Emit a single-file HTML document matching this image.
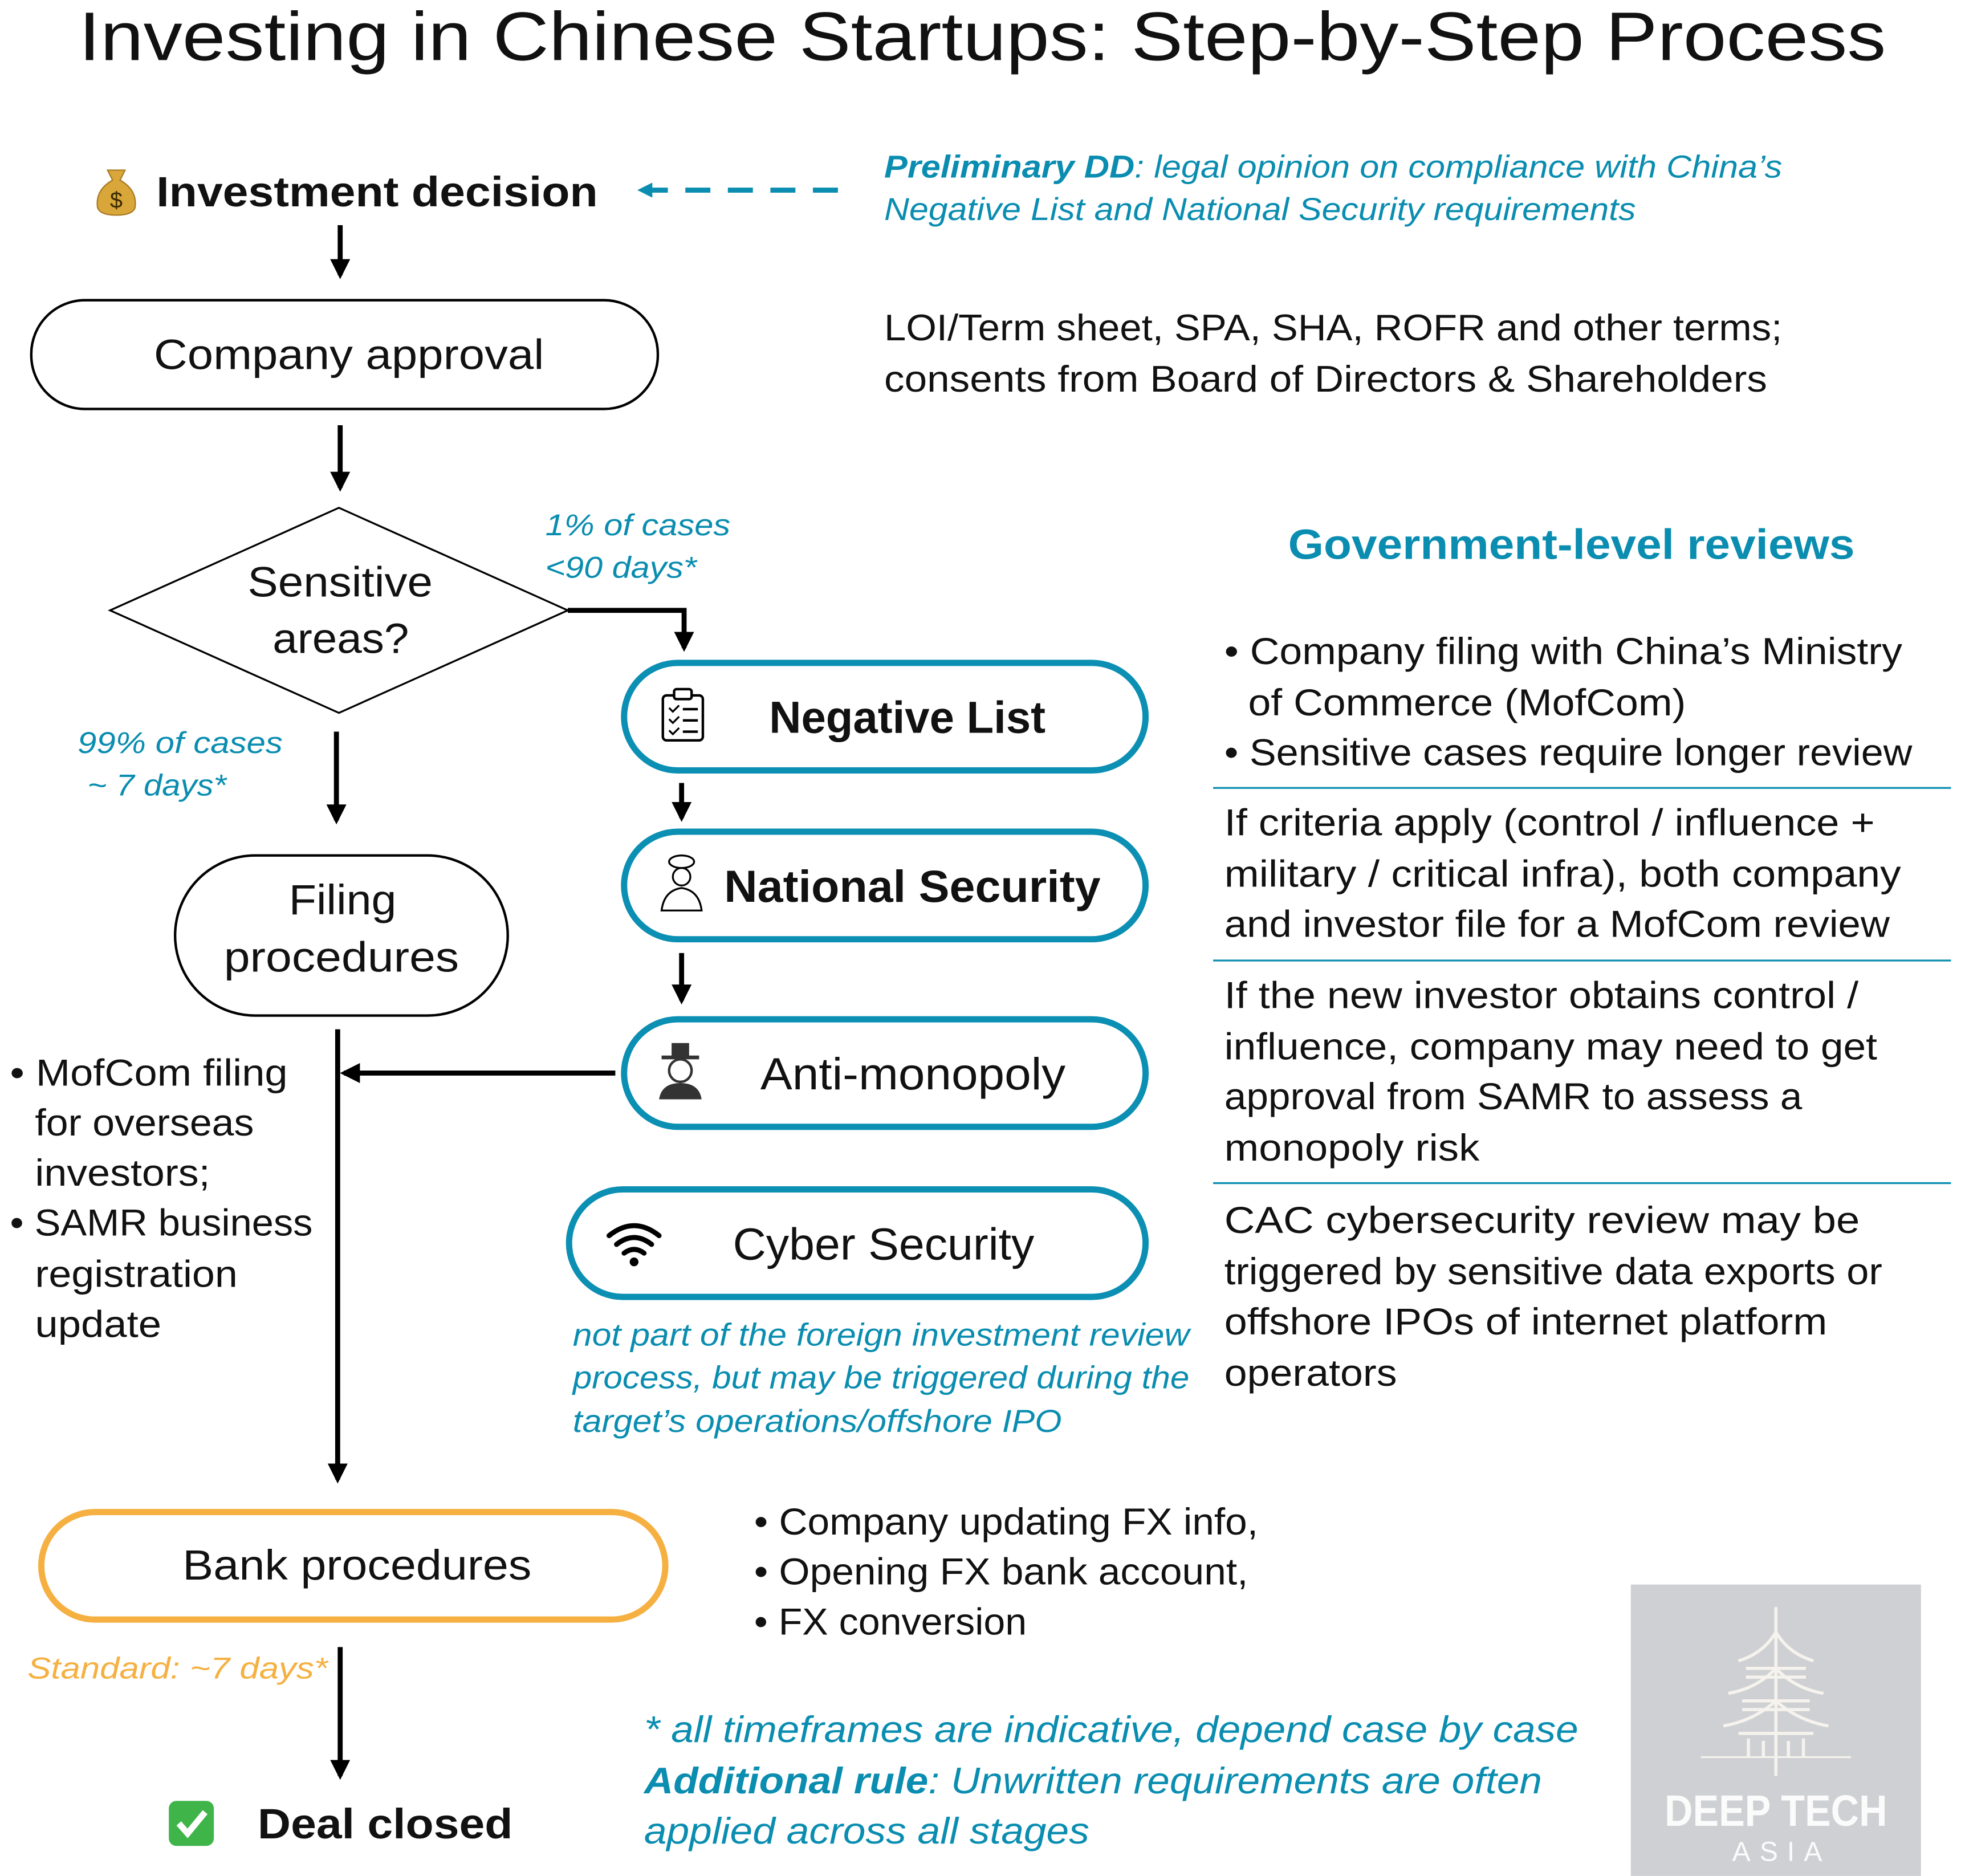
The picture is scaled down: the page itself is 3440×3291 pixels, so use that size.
<!DOCTYPE html>
<html><head><meta charset="utf-8"><style>
html,body{margin:0;padding:0;background:#fff;}
svg{display:block;}
text{font-family:"Liberation Sans","DejaVu Sans",sans-serif;fill:#111;}
.t{fill:#0a8db0;font-style:italic;}
.b{font-weight:bold;}
</style></head><body>
<svg width="3440" height="3291" viewBox="0 0 1568 1500" xmlns="http://www.w3.org/2000/svg">
<defs>
<marker id="a" viewBox="0 0 10 10" refX="8" refY="5" markerWidth="4" markerHeight="4" orient="auto"><path d="M0,0 L10,5 L0,10 z" fill="#000"/></marker>
<marker id="at" viewBox="0 0 10 10" refX="8" refY="5" markerWidth="3" markerHeight="3" orient="auto"><path d="M0,0 L10,5 L0,10 z" fill="#0a8db0"/></marker>
</defs>
<rect width="1568" height="1500" fill="#fff"/>
<text x="63" y="48" font-size="55" textLength="1445" lengthAdjust="spacingAndGlyphs">Investing in Chinese Startups: Step-by-Step Process</text>

<path d="M86,136 L100,136 L96,144 Q110,152 108,166 Q106,172 93,172 Q80,172 78,166 Q76,152 90,144 Z" fill="#d9a63a" stroke="#a77a20" stroke-width="1"/>
<text x="93" y="166" font-size="18" text-anchor="middle" style="fill:#3a2a00">$</text>
<text x="125" y="165" font-size="34" class="b" textLength="353" lengthAdjust="spacingAndGlyphs">Investment decision</text>
<line x1="670" y1="152" x2="512" y2="152" stroke="#0a8db0" stroke-width="4" stroke-dasharray="20,14" marker-end="url(#at)"/>
<text x="707" y="142" font-size="25.5" class="t" textLength="718" lengthAdjust="spacingAndGlyphs"><tspan font-weight="bold">Preliminary DD</tspan>: legal opinion on compliance with China’s</text>
<text x="707" y="176" font-size="25.5" class="t" textLength="601" lengthAdjust="spacingAndGlyphs">Negative List and National Security requirements</text>

<line x1="272" y1="180" x2="272" y2="220" stroke="#000" stroke-width="4" marker-end="url(#a)"/>
<rect x="25" y="240" width="501" height="87" rx="43" fill="#fff" stroke="#000" stroke-width="2"/>
<text x="123" y="295" font-size="34" textLength="312" lengthAdjust="spacingAndGlyphs">Company approval</text>
<text x="707" y="272" font-size="29.5" textLength="718" lengthAdjust="spacingAndGlyphs">LOI/Term sheet, SPA, SHA, ROFR and other terms;</text>
<text x="707" y="313" font-size="29.5" textLength="706" lengthAdjust="spacingAndGlyphs">consents from Board of Directors &amp; Shareholders</text>

<line x1="272" y1="340" x2="272" y2="390" stroke="#000" stroke-width="4" marker-end="url(#a)"/>
<polygon points="88,488 271,406 454,488 271,570" fill="#fff" stroke="#000" stroke-width="1.5"/>
<text x="198" y="477" font-size="34" textLength="148" lengthAdjust="spacingAndGlyphs">Sensitive</text>
<text x="218" y="522" font-size="34" textLength="109" lengthAdjust="spacingAndGlyphs">areas?</text>
<text x="436" y="428" font-size="24" class="t" textLength="148" lengthAdjust="spacingAndGlyphs">1% of cases</text>
<text x="436" y="462" font-size="24" class="t" textLength="121" lengthAdjust="spacingAndGlyphs">&lt;90 days*</text>
<polyline points="454,488 547,488 547,518" fill="none" stroke="#000" stroke-width="4" marker-end="url(#a)"/>

<text x="1030" y="447" font-size="34" class="b" style="fill:#0a8db0" textLength="453" lengthAdjust="spacingAndGlyphs">Government-level reviews</text>

<rect x="499" y="530" width="417" height="86" rx="43" fill="#fff" stroke="#0b8fb3" stroke-width="5"/>
<rect x="530" y="556" width="32" height="36" rx="3" fill="none" stroke="#000" stroke-width="2"/>
<rect x="539" y="551" width="14" height="8" rx="2" fill="#fff" stroke="#000" stroke-width="2"/>
<path d="M535,566l3,3l5,-5M535,575l3,3l5,-5M535,584l3,3l5,-5" fill="none" stroke="#000" stroke-width="1.5"/>
<path d="M546,567h12M546,576h12M546,585h12" stroke="#000" stroke-width="2"/>
<text x="615" y="586" font-size="36" class="b" textLength="221" lengthAdjust="spacingAndGlyphs">Negative List</text>
<line x1="545" y1="626" x2="545" y2="654" stroke="#000" stroke-width="4" marker-end="url(#a)"/>

<rect x="499" y="665" width="417" height="86" rx="43" fill="#fff" stroke="#0b8fb3" stroke-width="5"/>
<ellipse cx="545" cy="689" rx="10" ry="5" fill="none" stroke="#000" stroke-width="1.5"/>
<circle cx="545" cy="701" r="7" fill="none" stroke="#000" stroke-width="1.5"/>
<path d="M529,728 Q531,712 545,710 Q559,712 561,728 Z" fill="none" stroke="#000" stroke-width="1.5"/>
<text x="579" y="721" font-size="36" class="b" textLength="301" lengthAdjust="spacingAndGlyphs">National Security</text>
<line x1="545" y1="762" x2="545" y2="800" stroke="#000" stroke-width="4" marker-end="url(#a)"/>

<rect x="499" y="815" width="417" height="86" rx="43" fill="#fff" stroke="#0b8fb3" stroke-width="5"/>
<rect x="537" y="834" width="14" height="11" fill="#333"/>
<rect x="529" y="844" width="30" height="3" fill="#333"/>
<circle cx="544" cy="856" r="9" fill="none" stroke="#333" stroke-width="2"/>
<path d="M527,879 Q529,866 544,866 Q559,866 561,879 Z" fill="#333"/>
<text x="608" y="871" font-size="36" textLength="244" lengthAdjust="spacingAndGlyphs">Anti-monopoly</text>

<rect x="455" y="951" width="461" height="86" rx="43" fill="#fff" stroke="#0b8fb3" stroke-width="5"/>
<path d="M487,988 Q507,972 527,988 M493,995 Q507,984 521,995 M499,1002 Q507,996 515,1002" fill="none" stroke="#000" stroke-width="4" stroke-linecap="round"/>
<circle cx="507" cy="1009" r="3.5" fill="#000"/>
<text x="586" y="1007" font-size="36" textLength="241" lengthAdjust="spacingAndGlyphs">Cyber Security</text>
<text x="458" y="1076" font-size="25.5" class="t" textLength="493" lengthAdjust="spacingAndGlyphs">not part of the foreign investment review</text>
<text x="458" y="1110" font-size="25.5" class="t" textLength="493" lengthAdjust="spacingAndGlyphs">process, but may be triggered during the</text>
<text x="458" y="1145" font-size="25.5" class="t" textLength="391" lengthAdjust="spacingAndGlyphs">target’s operations/offshore IPO</text>

<g font-size="30" lengthAdjust="spacingAndGlyphs">
<text x="979" y="531" textLength="542" lengthAdjust="spacingAndGlyphs">• Company filing with China’s Ministry</text>
<text x="998" y="572" textLength="350" lengthAdjust="spacingAndGlyphs">of Commerce (MofCom)</text>
<text x="979" y="612" textLength="550" lengthAdjust="spacingAndGlyphs">• Sensitive cases require longer review</text>
<text x="979" y="668" textLength="520" lengthAdjust="spacingAndGlyphs">If criteria apply (control / influence +</text>
<text x="979" y="709" textLength="541" lengthAdjust="spacingAndGlyphs">military / critical infra), both company</text>
<text x="979" y="749" textLength="532" lengthAdjust="spacingAndGlyphs">and investor file for a MofCom review</text>
<text x="979" y="806" textLength="507" lengthAdjust="spacingAndGlyphs">If the new investor obtains control /</text>
<text x="979" y="847" textLength="522" lengthAdjust="spacingAndGlyphs">influence, company may need to get</text>
<text x="979" y="887" textLength="462" lengthAdjust="spacingAndGlyphs">approval from SAMR to assess a</text>
<text x="979" y="928" textLength="204" lengthAdjust="spacingAndGlyphs">monopoly risk</text>
<text x="979" y="986" textLength="508" lengthAdjust="spacingAndGlyphs">CAC cybersecurity review may be</text>
<text x="979" y="1027" textLength="526" lengthAdjust="spacingAndGlyphs">triggered by sensitive data exports or</text>
<text x="979" y="1067" textLength="482" lengthAdjust="spacingAndGlyphs">offshore IPOs of internet platform</text>
<text x="979" y="1108" textLength="138" lengthAdjust="spacingAndGlyphs">operators</text>
</g>
<g stroke="#0a8db0" stroke-width="1.5">
<line x1="970" y1="630" x2="1560" y2="630"/>
<line x1="970" y1="768" x2="1560" y2="768"/>
<line x1="970" y1="946" x2="1560" y2="946"/>
</g>

<text x="62" y="602" font-size="24" class="t" textLength="164" lengthAdjust="spacingAndGlyphs">99% of cases</text>
<text x="70" y="636" font-size="24" class="t" textLength="111" lengthAdjust="spacingAndGlyphs">~ 7 days*</text>
<line x1="269" y1="585" x2="269" y2="656" stroke="#000" stroke-width="4" marker-end="url(#a)"/>
<rect x="140" y="684" width="266" height="128" rx="64" fill="#fff" stroke="#000" stroke-width="2"/>
<text x="231" y="731" font-size="34" textLength="86" lengthAdjust="spacingAndGlyphs">Filing</text>
<text x="179" y="777" font-size="34" textLength="188" lengthAdjust="spacingAndGlyphs">procedures</text>
<line x1="270" y1="823" x2="270" y2="1183" stroke="#000" stroke-width="4" marker-end="url(#a)"/>
<line x1="492" y1="858" x2="275" y2="858" stroke="#000" stroke-width="4" marker-end="url(#a)"/>
<g font-size="30">
<text x="8" y="868" textLength="222" lengthAdjust="spacingAndGlyphs">• MofCom filing</text>
<text x="28" y="908" textLength="175" lengthAdjust="spacingAndGlyphs">for overseas</text>
<text x="28" y="948" textLength="140" lengthAdjust="spacingAndGlyphs">investors;</text>
<text x="8" y="988" textLength="242" lengthAdjust="spacingAndGlyphs">• SAMR business</text>
<text x="28" y="1029" textLength="162" lengthAdjust="spacingAndGlyphs">registration</text>
<text x="28" y="1069" textLength="101" lengthAdjust="spacingAndGlyphs">update</text>
</g>

<rect x="33" y="1209" width="499" height="86" rx="43" fill="#fff" stroke="#f5b041" stroke-width="5"/>
<text x="146" y="1263" font-size="34" textLength="279" lengthAdjust="spacingAndGlyphs">Bank procedures</text>
<g font-size="30">
<text x="603" y="1227" textLength="403" lengthAdjust="spacingAndGlyphs">• Company updating FX info,</text>
<text x="603" y="1267" textLength="395" lengthAdjust="spacingAndGlyphs">• Opening FX bank account,</text>
<text x="603" y="1307" textLength="218" lengthAdjust="spacingAndGlyphs">• FX conversion</text>
</g>
<text x="22" y="1342" font-size="24" class="t" style="fill:#f5b041" textLength="240" lengthAdjust="spacingAndGlyphs">Standard:  ~7 days*</text>
<line x1="272" y1="1317" x2="272" y2="1420" stroke="#000" stroke-width="4" marker-end="url(#a)"/>
<rect x="135" y="1440" width="36" height="36" rx="6" fill="#3fb549"/>
<path d="M143,1458 l7,8 l14,-17" fill="none" stroke="#fff" stroke-width="5"/>
<text x="206" y="1470" font-size="34" class="b" textLength="204" lengthAdjust="spacingAndGlyphs">Deal closed</text>

<text x="515" y="1393" font-size="29.5" class="t" textLength="747" lengthAdjust="spacingAndGlyphs">* all timeframes are indicative, depend case by case</text>
<text x="515" y="1434" font-size="29.5" class="t" textLength="718" lengthAdjust="spacingAndGlyphs"><tspan font-weight="bold">Additional rule</tspan>: Unwritten requirements are often</text>
<text x="515" y="1474" font-size="29.5" class="t" textLength="356" lengthAdjust="spacingAndGlyphs">applied across all stages</text>

<rect x="1304" y="1267" width="232" height="233" fill="#cfd0d3"/>
<g stroke="#f6f3ee" stroke-width="2.5" fill="none">
<line x1="1420" y1="1285" x2="1420" y2="1420"/>
<path d="M1390,1328 Q1410,1322 1420,1305 Q1430,1322 1450,1328"/>
<path d="M1396,1334h48M1396,1341h48"/>
<path d="M1382,1354 Q1405,1350 1420,1334 Q1435,1350 1458,1354"/>
<path d="M1393,1360h54M1393,1367h54"/>
<path d="M1378,1380 Q1402,1376 1420,1360 Q1438,1376 1462,1380"/>
<line x1="1390" y1="1386" x2="1450" y2="1386"/>
<line x1="1360" y1="1405" x2="1480" y2="1405" stroke-width="1.5"/>
<path d="M1398,1390v15M1410,1392v13M1430,1392v13M1442,1390v15"/>
</g>
<text x="1331" y="1460" font-size="35" class="b" style="fill:#fbfbfb" textLength="178" lengthAdjust="spacingAndGlyphs">DEEP TECH</text>
<text x="1385" y="1488" font-size="22" style="fill:#fbfbfb" textLength="72" lengthAdjust="spacing">ASIA</text>
</svg>
</body></html>
